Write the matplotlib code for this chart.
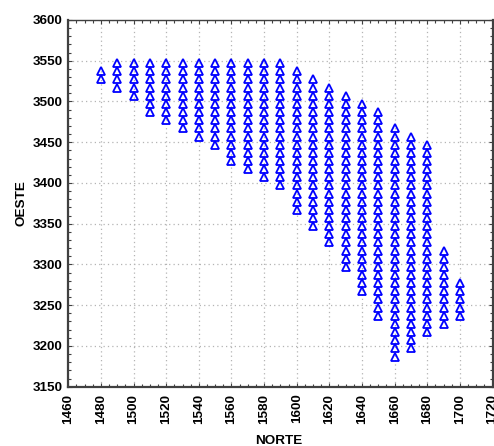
import matplotlib
matplotlib.use("Agg")
import matplotlib.pyplot as plt
from matplotlib.ticker import MultipleLocator

# column positions (NORTE) and the OESTE values of each column
norte = [1480, 1490, 1500, 1510, 1520, 1530, 1540, 1550, 1560, 1570, 1580, 1590,
         1600, 1610, 1620, 1630, 1640, 1650, 1660, 1670, 1680, 1690, 1700]

oeste_cols = [
    [3537, 3527],
    [3547, 3537, 3527, 3517],
    [3547, 3537, 3527, 3517, 3507],
    [3547, 3537, 3527, 3517, 3507, 3497, 3487],
    [3547, 3537, 3527, 3517, 3507, 3497, 3487, 3477],
    [3547, 3537, 3527, 3517, 3507, 3497, 3487, 3477, 3467],
    [3547, 3537, 3527, 3517, 3507, 3497, 3487, 3477, 3467, 3457],
    [3547, 3537, 3527, 3517, 3507, 3497, 3487, 3477, 3467, 3457, 3447],
    [3547, 3537, 3527, 3517, 3507, 3497, 3487, 3477, 3467, 3457, 3447, 3437, 3427],
    [3547, 3537, 3527, 3517, 3507, 3497, 3487, 3477, 3467, 3457, 3447, 3437, 3427,
     3417],
    [3547, 3537, 3527, 3517, 3507, 3497, 3487, 3477, 3467, 3457, 3447, 3437, 3427,
     3417, 3407],
    [3547, 3537, 3527, 3517, 3507, 3497, 3487, 3477, 3467, 3457, 3447, 3437, 3427,
     3417, 3407, 3397],
    [3537, 3527, 3517, 3507, 3497, 3487, 3477, 3467, 3457, 3447, 3437, 3427, 3417,
     3407, 3397, 3387, 3377, 3367],
    [3527, 3517, 3507, 3497, 3487, 3477, 3467, 3457, 3447, 3437, 3427, 3417, 3407,
     3397, 3387, 3377, 3367, 3357, 3347],
    [3517, 3507, 3497, 3487, 3477, 3467, 3457, 3447, 3437, 3427, 3417, 3407, 3397,
     3387, 3377, 3367, 3357, 3347, 3337, 3327],
    [3507, 3497, 3487, 3477, 3467, 3457, 3447, 3437, 3427, 3417, 3407, 3397, 3387,
     3377, 3367, 3357, 3347, 3337, 3327, 3317, 3307, 3297],
    [3497, 3487, 3477, 3467, 3457, 3447, 3437, 3427, 3417, 3407, 3397, 3387, 3377,
     3367, 3357, 3347, 3337, 3327, 3317, 3307, 3297, 3287, 3277, 3267],
    [3487, 3477, 3467, 3457, 3447, 3437, 3427, 3417, 3407, 3397, 3387, 3377, 3367,
     3357, 3347, 3337, 3327, 3317, 3307, 3297, 3287, 3277, 3267, 3257, 3247, 3237],
    [3467, 3457, 3447, 3437, 3427, 3417, 3407, 3397, 3387, 3377, 3367, 3357, 3347,
     3337, 3327, 3317, 3307, 3297, 3287, 3277, 3267, 3257, 3247, 3237, 3227, 3217,
     3207, 3197, 3187],
    [3457, 3447, 3437, 3427, 3417, 3407, 3397, 3387, 3377, 3367, 3357, 3347, 3337,
     3327, 3317, 3307, 3297, 3287, 3277, 3267, 3257, 3247, 3237, 3227, 3217, 3207,
     3197],
    [3447, 3437, 3427, 3417, 3407, 3397, 3387, 3377, 3367, 3357, 3347, 3337, 3327,
     3317, 3307, 3297, 3287, 3277, 3267, 3257, 3247, 3237, 3227, 3217],
    [3317, 3307, 3297, 3287, 3277, 3267, 3257, 3247, 3237, 3227],
    [3277, 3267, 3257, 3247, 3237],
]

plt.rcParams['font.family'] = ['Liberation Sans', 'DejaVu Sans']
plt.rcParams['font.weight'] = 'bold'
plt.rcParams['font.size'] = 9.7

fig = plt.figure(figsize=(4.94, 4.46), dpi=100)
ax = fig.add_axes([0.1383, 0.1330, 0.8587, 0.8222])

xs, ys = [], []
for x, col in zip(norte, oeste_cols):
    xs += [x] * len(col)
    ys += col
ax.plot(xs, ys, linestyle='none', marker='^', markersize=5.8,
        markerfacecolor='none', markeredgecolor='#0000ff', markeredgewidth=1.3)

ax.set_xlim(1460, 1720)
ax.set_ylim(3150, 3600)
ax.xaxis.set_major_locator(MultipleLocator(20))
ax.xaxis.set_minor_locator(MultipleLocator(5))
ax.yaxis.set_major_locator(MultipleLocator(50))
ax.yaxis.set_minor_locator(MultipleLocator(10))

ax.grid(True, which='major', color='#b4b4b4', linestyle=(0, (1, 2.5)), linewidth=0.9)
ax.set_axisbelow(True)

ax.tick_params(which='both', direction='in', top=True, right=True, color='#404040')
ax.tick_params(which='major', length=3, width=0.8)
ax.tick_params(which='minor', length=2, width=0.8)
ax.tick_params(axis='x', labelrotation=90, pad=5)
ax.tick_params(axis='y', pad=4.3)

for side, sp in ax.spines.items():
    sp.set_color('#404040')
    sp.set_linewidth(1.0 if side == 'top' else 1.6)

ax.set_xlabel("NORTE", fontweight='bold')
ax.set_ylabel("OESTE", fontweight='bold')
ax.xaxis.set_label_coords(0.4967, -0.132)
ax.yaxis.set_label_coords(-0.096, 0.501)

fig.savefig("out.png", dpi=100)
